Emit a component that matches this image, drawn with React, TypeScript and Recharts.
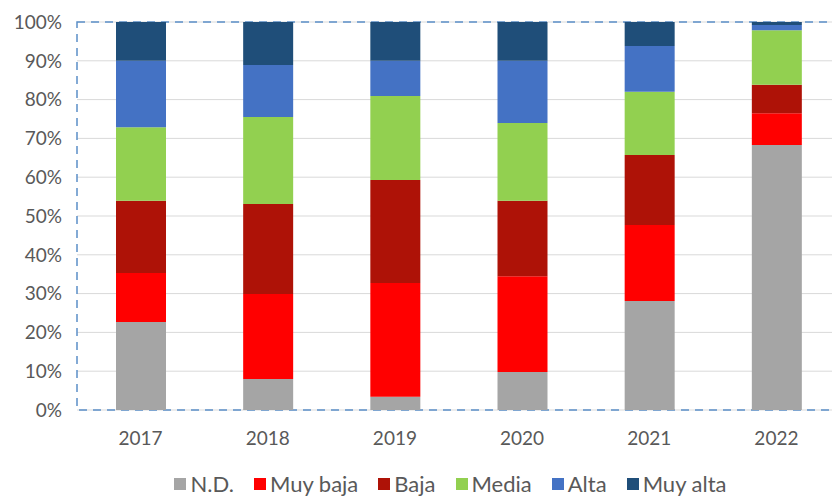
import React from 'react';
import { BarChart, Bar, XAxis, YAxis, CartesianGrid, Legend, usePlotArea } from 'recharts';

const years = ['2017', '2018', '2019', '2020', '2021', '2022'];
const nd = [22.7, 8.0, 3.4, 9.8, 28.1, 68.3];
const muyBaja = [12.6, 21.9, 29.3, 24.7, 19.6, 8.2];
const baja = [18.6, 23.2, 26.6, 19.4, 18.0, 7.3];
const media = [19.0, 22.4, 21.6, 20.1, 16.3, 14.1];
const alta = [17.1, 13.4, 9.1, 16.0, 11.8, 1.3];
const muyAlta = [10.0, 11.1, 10.0, 10.0, 6.2, 0.8];
const yTicks = [0, 10, 20, 30, 40, 50, 60, 70, 80, 90, 100];

const series = [
  { key: 'nd', name: 'N.D.', color: '#a5a5a5', values: nd },
  { key: 'muyBaja', name: 'Muy baja', color: '#ff0000', values: muyBaja },
  { key: 'baja', name: 'Baja', color: '#ae1207', values: baja },
  { key: 'media', name: 'Media', color: '#92d050', values: media },
  { key: 'alta', name: 'Alta', color: '#4472c4', values: alta },
  { key: 'muyAlta', name: 'Muy alta', color: '#1f4e79', values: muyAlta },
];

const data = years.map((year, i) => {
  const row: Record<string, string | number> = { year };
  series.forEach((s) => {
    row[s.key] = s.values[i];
  });
  return row;
});

const font = 'Lato, sans-serif';
const textColor = '#595959';

// dashed frame around the plot area
function PlotBorder() {
  const area = usePlotArea();
  if (!area) return null;
  return (
    <rect
      x={area.x}
      y={area.y}
      width={area.width}
      height={area.height}
      fill="none"
      stroke="#5b8fc7"
      strokeWidth={1.5}
      strokeDasharray="8 6"
    />
  );
}

// legend in series order (recharts sorts by name otherwise)
function LegendContent() {
  return (
    <div
      style={{
        height: 24,
        display: 'flex',
        justifyContent: 'center',
        alignItems: 'center',
        gap: 20,
        paddingLeft: 61,
        fontFamily: font,
        fontSize: 22,
        lineHeight: '24px',
        color: textColor,
      }}
    >
      {series.map((s) => (
        <div key={s.key} style={{ display: 'flex', alignItems: 'center', gap: 4 }}>
          <span style={{ width: 12, height: 12, background: s.color, display: 'inline-block' }} />
          <span>{s.name}</span>
        </div>
      ))}
    </div>
  );
}

export default function App() {
  return (
    <div
      style={{
        position: 'absolute',
        left: 0,
        top: 0,
        width: 832,
        height: 496,
        overflow: 'hidden',
        background: '#fff',
      }}
    >
      <BarChart width={840} height={496} data={data} margin={{ top: 22, right: 0, bottom: 0, left: 0 }}>
        <CartesianGrid vertical={false} stroke="#d9d9d9" />
        <XAxis
          dataKey="year"
          axisLine={false}
          tickLine={false}
          tickSize={0}
          tickMargin={22}
          height={62}
          tick={{ fill: textColor, fontSize: 19, fontFamily: font }}
        />
        <YAxis
          width={77}
          domain={[0, 100]}
          ticks={yTicks}
          tickFormatter={(v) => `${v}%`}
          axisLine={false}
          tickLine={false}
          tickSize={0}
          tickMargin={15}
          tick={{ fill: textColor, fontSize: 19, fontFamily: font }}
        />
        <Legend verticalAlign="bottom" height={24} content={<LegendContent />} />
        {series.map((s) => (
          <Bar
            key={s.key}
            dataKey={s.key}
            name={s.name}
            stackId="a"
            fill={s.color}
            barSize={50}
            isAnimationActive={false}
          />
        ))}
        <PlotBorder />
      </BarChart>
    </div>
  );
}
